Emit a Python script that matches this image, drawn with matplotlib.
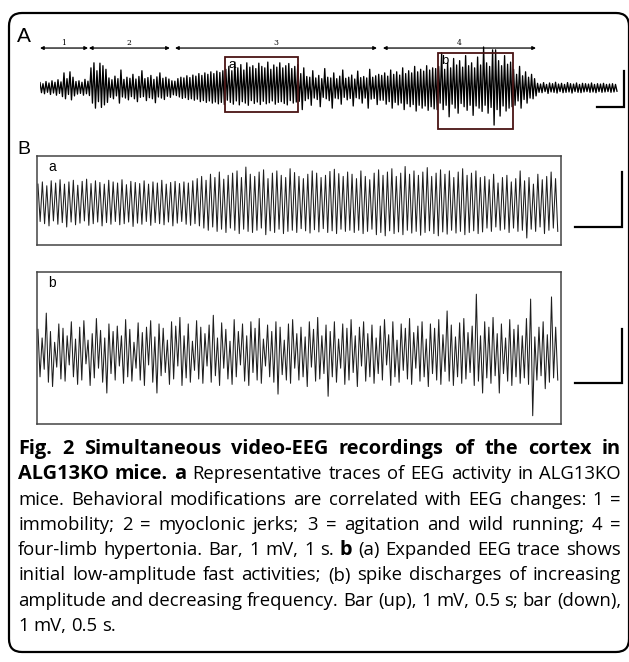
import numpy as np
import matplotlib
matplotlib.use('Agg')
import matplotlib.pyplot as plt
from matplotlib.patches import FancyBboxPatch, Rectangle
from matplotlib.transforms import IdentityTransform

W, H = 629, 662

# ---- panel A: whole seizure, one peak / trough pair per cycle (uV) ----
a_peaks = [150, 120, 180, 140, 200, 160, 230, 170, 420, 260, 450, 300, 180, 200, 160, 240, 190,
           560, 700, 480, 690, 620, 520,
           280, 230, 330, 260, 500, 240, 300, 270, 380, 250, 320, 480, 260, 290, 350, 240, 310, 420, 270, 300, 250,
           200, 190,
           260, 300, 280, 340, 290, 360, 330, 400, 350, 420, 380, 450, 400, 470, 430, 480,
           520, 600, 480, 720, 560, 650, 500, 700, 580, 620, 540, 690, 600, 560, 720, 520, 640, 580, 700, 560, 620, 680, 540, 600, 650,
           400, 560, 320, 300, 480, 280, 350, 260, 540, 300, 280, 420, 260, 330, 500, 270, 300, 360, 250, 470, 290, 320, 280, 520, 300, 340, 380,
           350, 420, 330, 500, 380, 450, 360, 560, 400, 480, 420, 600, 450, 520, 470, 620, 500, 560, 540,
           600, 980, 520, 700, 560, 820, 640, 760, 580, 900, 620, 700, 560, 860, 640, 1140, 700, 600, 1060, 1060, 760, 620, 900, 660, 720,
           520, 380, 600, 340, 450, 300, 380, 260,
           130, 110, 150, 100, 140, 120, 160, 110, 130, 100, 150, 120, 110, 140, 100, 130, 120, 110, 140, 100, 120, 110, 130, 100, 110, 120, 100]
a_troughs = [-130, -160, -120, -180, -140, -200, -150, -240, -300, -180, -330, -220, -170, -150, -200, -160, -210,
             -420, -560, -380, -540, -470, -400,
             -260, -300, -220, -420, -250, -280, -330, -240, -300, -380, -260, -240, -350, -270, -300, -410, -250, -280, -320, -230, -260,
             -190, -210,
             -250, -290, -270, -320, -300, -340, -310, -380, -350, -400, -360, -420, -390, -440, -400, -460,
             -340, -400, -450, -360, -470, -380, -420, -480, -350, -430, -390, -460, -370, -440, -410, -360, -450, -400, -380, -430, -470, -350, -420, -390, -370,
             -600, -350, -300, -480, -280, -320, -520, -260, -300, -350, -560, -280, -300, -450, -260, -330, -290, -500, -270, -300, -420, -280, -560, -310, -290, -460, -340,
             -340, -450, -380, -560, -400, -470, -420, -600, -440, -520, -460, -640, -480, -560, -500, -620, -520, -580, -600,
             -420, -600, -480, -800, -450, -560, -700, -430, -520, -620, -480, -760, -500, -560, -650, -480, -700, -540, -1030, -600, -780, -500, -640, -560, -520,
             -480, -360, -560, -320, -420, -280, -300, -220,
             -120, -130, -100, -150, -110, -120, -140, -100, -130, -120, -110, -140, -100, -120, -130, -110, -100, -120, -110, -130, -100, -120, -110, -100, -120, -110, -90]
a_duration = 21.37  # s

phase_names = ['1', '2', '3', '4']
phase_start = [0.0, 1.81, 5.0, 12.7]
phase_end = [1.78, 4.81, 12.48, 18.37]

zoom_names = ['a', 'b']
zoom_t0 = [6.85, 14.74]
zoom_t1 = [9.56, 17.52]
zoom_lo = [-0.667, -1.139]
zoom_hi = [0.861, 0.972]

# ---- panel B: expanded traces (uV) ----
ba_peaks = [380, 420, 350, 440, 400, 460, 380, 420, 450, 360, 430, 470, 390, 440, 410, 380, 450, 420,
            400, 460, 370, 430, 410, 390, 440, 380, 420, 400, 450, 380, 410, 430, 390, 420, 400, 440,
            480, 520, 450, 560, 500, 600, 470, 540, 580, 620, 500, 690, 560, 520, 600, 640, 480, 580,
            620, 540, 500, 660, 590, 520, 480, 560, 620, 580, 500, 540, 610, 650, 570, 520, 600,
            560, 480, 620, 520, 460, 580, 640, 540, 600, 660, 520, 580, 700, 560, 620, 540, 600, 680,
            520, 580, 640, 560, 620, 500, 600, 660, 540, 580, 620, 500,
            520, 460, 560, 400, 500, 540, 420, 480, 620, 440, 500, 380, 560, 460, 520, 600, 480]
ba_troughs = [-300, -340, -380, -290, -350, -320, -400, -310, -360, -330, -290, -370, -340, -310, -380, -320, -350, -300,
              -360, -340, -310, -390, -330, -350, -300, -370, -320, -340, -360, -310, -380, -330, -300, -350, -370, -340,
              -380, -420, -460, -400, -480, -440, -500, -420, -460, -520, -440, -480, -500, -460, -420, -540, -470, -500,
              -440, -520, -480, -460, -500, -430, -470, -510, -450, -490, -430, -500, -470, -520, -440, -480, -460,
              -500, -460, -520, -480, -440, -540, -500, -560, -470, -520, -490, -540, -460, -510, -480, -550, -500, -470,
              -520, -560, -490, -530, -460, -510, -480, -540, -500, -470, -520, -490,
              -420, -480, -400, -460, -440, -500, -420, -480, -460, -600, -440, -480, -400, -520, -460, -420, -480]
bb_peaks = [420, 260, 720, 380, 180, 520, 440, 300, 560, 240,
            460, 580, 220, 340, 620, 400, 260, 520, 380, 480,
            300, 600, 420, 180, 540, 360, 460, 580, 280, 520,
            440, 220, 560, 480, 640, 300, 520, 200, 580, 460,
            340, 500, 680, 260, 540, 420, 200, 600, 380, 520,
            300, 560, 440, 620, 240, 500, 380, 560, 460, 220,
            520, 600, 340, 460, 280, 560, 420, 640, 300, 500,
            380, 560, 240, 520, 440, 600, 300, 460, 560, 340,
            500, 260, 480, 600, 320, 560, 220, 520, 440, 620,
            360, 480, 560, 240, 520, 440, 600, 320, 760, 500,
            280, 540, 620, 360, 480, 1070, 300, 560, 460, 640,
            340, 520, 260, 600, 420, 500, 300, 620, 980, 280,
            460, 560, 320, 1020, 460]
bb_troughs = [-460, -320, -560, -640, -280, -500, -540, -240, -460, -600,
              -520, -220, -620, -480, -300, -560, -760, -400, -520, -260,
              -580, -460, -540, -300, -520, -620, -240, -560, -760, -440,
              -380, -600, -500, -260, -620, -480, -560, -340, -500, -580,
              -260, -560, -440, -620, -300, -500, -600, -460, -240, -540,
              -620, -380, -520, -580, -260, -460, -560, -780, -420, -520,
              -580, -300, -520, -460, -640, -280, -540, -500, -400, -820,
              -460, -560, -300, -600, -520, -380, -640, -260, -540, -460,
              -580, -400, -520, -240, -620, -460, -560, -340, -500, -600,
              -300, -540, -460, -640, -400, -520, -600, -360, -540, -620,
              -460, -580, -500, -380, -620, -540, -760, -480, -580, -440,
              -760, -400, -540, -620, -460, -580, -480, -600, -1180, -520,
              -440, -680, -560, -480, -520]
b_duration = 5.53  # s

caption = [
    [('Fig. 2 Simultaneous video-EEG recordings of the cortex in', 'bold')],
    [('ALG13KO mice. a', 'bold'), ('Representative traces of EEG activity in ALG13KO', 'normal')],
    [('mice. Behavioral modifications are correlated with EEG changes: 1 =', 'normal')],
    [('immobility; 2 = myoclonic jerks; 3 = agitation and wild running; 4 =', 'normal')],
    [('four-limb hypertonia. Bar, 1 mV, 1 s.', 'normal'), ('b', 'bold'), ('(a) Expanded EEG trace shows', 'normal')],
    [('initial low-amplitude fast activities; (b) spike discharges of increasing', 'normal')],
    [('amplitude and decreasing frequency. Bar (up), 1 mV, 0.5 s; bar (down),', 'normal')],
    [('1 mV, 0.5 s.', 'normal')],
]


def zigzag(peaks, troughs, duration):
    v = np.empty(2 * len(peaks))
    v[0::2] = peaks
    v[1::2] = troughs
    t = np.linspace(0, duration, len(v))
    return t, v / 1000.0


def px_box(x0, y0, x1, y1):
    return [x0 / W, 1 - y1 / H, (x1 - x0) / W, (y1 - y0) / H]


def scale_bar(ax, t_right, y_bottom, t_len):
    ax.plot([t_right - t_len, t_right, t_right], [y_bottom, y_bottom, y_bottom + 1.0],
            color='black', lw=1.6, clip_on=False, solid_joinstyle='miter')


fig = plt.figure(figsize=(W / 100, H / 100), dpi=100)

# outer rounded frame
fig.add_artist(FancyBboxPatch((9, H - 652), 620, 639, boxstyle='round,pad=0,rounding_size=13',
                              transform=IdentityTransform(), fill=False, ec='black', lw=1.6))

fig.text(17 / W, 1 - 36 / H, 'A', fontsize=15, family='Liberation Sans', va='center', ha='left')
fig.text(17 / W, 1 - 149 / H, 'B', fontsize=14, family='Liberation Sans', va='center', ha='left')

# ---- panel A ----
axA = fig.add_axes(px_box(40, 40, 628, 135))
t, v = zigzag(a_peaks, a_troughs, a_duration)
axA.plot(t, v, color='black', lw=0.95)
axA.set_xlim(0, 588 / 27)
axA.set_ylim(-(135 - 88) / 36, (88 - 40) / 36)
axA.axis('off')

for name, s, e in zip(phase_names, phase_start, phase_end):
    axA.annotate('', xy=(e, 1.11), xytext=(s, 1.11), annotation_clip=False,
                 arrowprops=dict(arrowstyle='<|-|>', lw=0.9, color='black', mutation_scale=5,
                                 shrinkA=0, shrinkB=0))
    axA.text((s + e) / 2, 1.25, name, fontsize=5.5, family='DejaVu Serif', ha='center', va='center')

for name, t0, t1, lo, hi in zip(zoom_names, zoom_t0, zoom_t1, zoom_lo, zoom_hi):
    axA.add_patch(Rectangle((t0, lo), t1 - t0, hi - lo, fill=False, ec='#4a1414', lw=1.3, zorder=3))
    axA.text(t0 + 0.12, hi - 0.05, name, fontsize=9.5, family='Liberation Sans', ha='left', va='top', zorder=4)

scale_bar(axA, 21.63, -0.528, 1.0)

# ---- panel B ----
panels = [
    ('a', ba_peaks, ba_troughs, (37, 156, 561, 245), 205, 55, -0.4),
    ('b', bb_peaks, bb_troughs, (37, 272, 561, 424), 352, 54, -0.574),
]
for name, pk, tr, (x0, y0, x1, y1), yc, pxmv, bar_y in panels:
    ax = fig.add_axes(px_box(x0, y0, x1, y1))
    t, v = zigzag(pk, tr, b_duration)
    ax.plot(t + 0.01, v, color='#1e1e1e', lw=0.75)
    ax.set_xlim(0, (x1 - x0) / 94)
    ax.set_ylim(-(y1 - yc) / pxmv, (yc - y0) / pxmv)
    ax.set_xticks([])
    ax.set_yticks([])
    for sp in ax.spines.values():
        sp.set_color('#444444')
        sp.set_linewidth(1.1)
    ax.text(11 / (x1 - x0), 1 - 4 / (y1 - y0), name, transform=ax.transAxes, fontsize=10,
            family='Liberation Sans', ha='left', va='top')
    scale_bar(ax, (622 - x0) / 94, bar_y, 0.5)

# ---- caption, justified between left and right ----
renderer = fig.canvas.get_renderer()
left, right = 18, 621
fs0 = 10.0
bold_scale = 1.08  # the journal bold face runs wider than Open Sans Bold
rows = []
for k, line in enumerate(caption):
    words = []
    for chunk, weight in line:
        words += [(w, weight) for w in chunk.split(' ')]
    texts = [fig.text(0, 0, w, fontsize=fs0 * (bold_scale if wt == 'bold' else 1), fontweight=wt,
                      family='Open Sans', va='center')
             for w, wt in words]
    rows.append(texts)

space0 = fs0 * 0.26 * 100 / 72
natural = []
for texts in rows[:-1]:
    ws = [tx.get_window_extent(renderer).width for tx in texts]
    natural.append(sum(ws) + space0 * (len(ws) - 1))
scale = (right - left) / max(natural)
fs = fs0 * scale

for k, texts in enumerate(rows):
    y = 449 + 25.3 * k
    for tx in texts:
        tx.set_fontsize(tx.get_fontsize() * scale)
    widths = [tx.get_window_extent(renderer).width for tx in texts]
    if k < len(rows) - 1 and len(texts) > 1:
        gap = (right - left - sum(widths)) / (len(texts) - 1)
    else:
        gap = fs * 0.26 * 100 / 72
    x = left
    for tx, w in zip(texts, widths):
        tx.set_position((x / W, 1 - y / H))
        x += w + gap

fig.savefig('out.png', dpi=100)
